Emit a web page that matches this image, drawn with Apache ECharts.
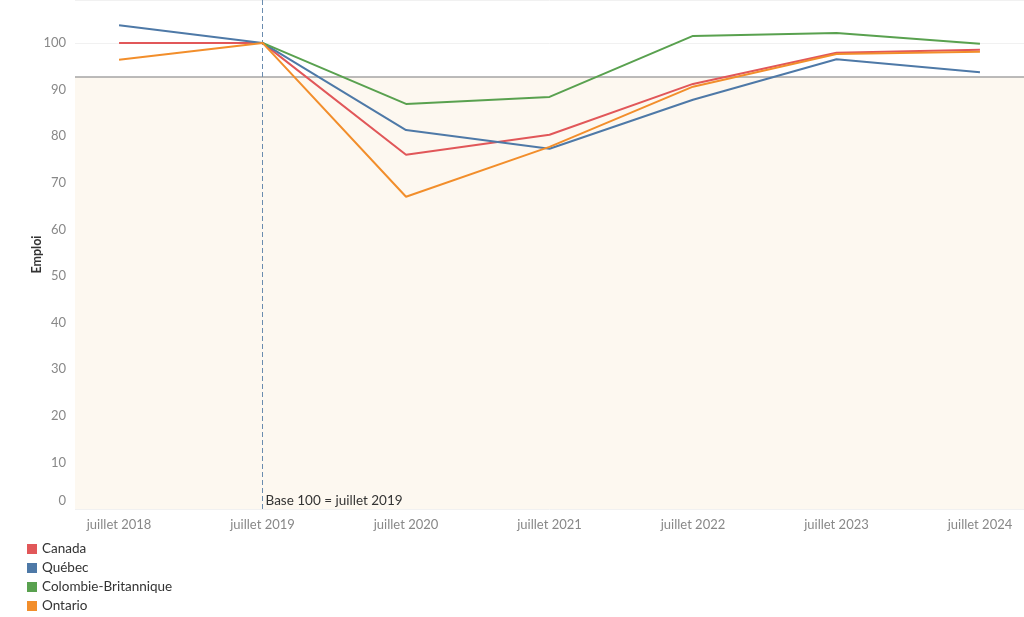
<!DOCTYPE html>
<html><head><meta charset="utf-8">
<script src="https://cdn.jsdelivr.net/npm/echarts@6/dist/echarts.min.js"></script>
<style>html,body{margin:0;padding:0;background:#fff}#c{width:1024px;height:617px}</style>
</head><body><div id="c"></div>
<script>
const categories = ['juillet 2018','juillet 2019','juillet 2020','juillet 2021','juillet 2022','juillet 2023','juillet 2024'];
const canada = [100, 100, 76.0, 80.3, 91.2, 97.9, 98.5];
const quebec = [103.8, 100, 81.3, 77.3, 87.8, 96.5, 93.7];
const colombieBritannique = [null, 100, 86.9, 88.4, 101.5, 102.1, 99.8];
const ontario = [96.4, 100, 67.0, 77.7, 90.6, 97.6, 98.1];
const referenceValue = 92.7;
const baseIndex = 1;
const baseLabel = 'Base 100 = juillet 2019';

const FONT = 'Lato';
const toPairs = arr => arr.map((v, i) => [i, v]);
const chart = echarts.init(document.getElementById('c'));
const mk = (name, data, color) => ({
  name, type: 'line', data: toPairs(data), symbol: 'none', connectNulls: false,
  lineStyle: { color, width: 2 }, itemStyle: { color }
});
const series = [
  mk('Canada', canada, '#e15759'),
  mk('Québec', quebec, '#4e79a7'),
  mk('Colombie-Britannique', colombieBritannique, '#59a14f'),
  mk('Ontario', ontario, '#f28e2b')
];
series[0].markArea = {
  silent: true, z: 0,
  itemStyle: { color: '#fdf8f0' },
  data: [[{ yAxis: 0 }, { yAxis: referenceValue }]]
};
series[0].markLine = {
  silent: true, symbol: 'none', z: 1,
  data: [
    { yAxis: referenceValue, lineStyle: { color: '#a4a4a4', width: 1.5, type: 'solid' }, label: { show: false } },
    { xAxis: baseIndex, lineStyle: { color: '#6a8caf', width: 1, type: [5, 3] },
      label: { show: true, position: 'insideStartTop', formatter: baseLabel, rotate: 0, color: '#333', fontFamily: FONT, fontSize: 13.5, distance: [3, 1], align: 'left', verticalAlign: 'bottom' } }
  ]
};
chart.setOption({
  animation: false,
  textStyle: { fontFamily: FONT },
  grid: { left: 75, right: 0, top: 0, bottom: 108 },
  legend: {
    orient: 'vertical', left: 22, top: 537, height: 80, itemWidth: 10, itemHeight: 10, itemGap: 5,
    icon: 'rect', textStyle: { fontFamily: FONT, fontSize: 13.5, color: '#333' },
    data: ['Canada', 'Québec', 'Colombie-Britannique', 'Ontario']
  },
  xAxis: {
    type: 'value', min: -0.307, max: 6.307,
    axisLine: { show: false }, axisTick: { show: false }, splitLine: { show: false },
    axisLabel: { customValues: [0,1,2,3,4,5,6], formatter: v => categories[Math.round(v)], color: '#888', fontSize: 13, fontFamily: FONT, margin: 9 }
  },
  yAxis: {
    type: 'value', min: 0, max: 109.2, interval: 10,
    name: 'Emploi', nameLocation: 'middle', nameGap: 32, nameRotate: 90, nameMoveOverlap: false,
    nameTextStyle: { fontWeight: 'bold', fontSize: 12.5, color: '#333', fontFamily: FONT },
    axisLine: { show: false }, axisTick: { show: false },
    splitLine: { lineStyle: { color: '#f1f1f1', width: 1 } },
    axisLabel: {
      color: '#888', fontSize: 13, fontFamily: FONT, margin: 9,
      formatter: v => (Math.abs(v % 10) > 1e-6 ? '' : (v === 0 ? '{z|0}' : String(v))),
      rich: { z: { color: '#888', fontSize: 13, fontFamily: FONT, padding: [0, 0, 16, 0] } }
    }
  },
  series
});
</script></body></html>
